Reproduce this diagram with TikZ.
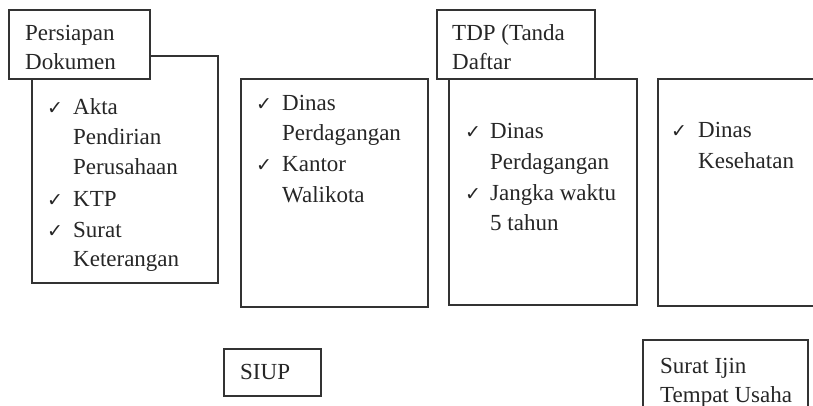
\documentclass[tikz,border=0pt]{standalone}
\usepackage{fontspec}
\setmainfont{Liberation Serif}
\newfontfamily\symfont{DejaVu Sans}
\begin{document}
\begin{tikzpicture}[x=1pt,y=-1pt,
  frame/.style={draw=black!80, line width=1.2pt, fill=white, inner sep=0pt, outer sep=0pt, anchor=north west},
  txt/.style={anchor=base west, inner sep=0pt, font=\fontsize{23}{30}\selectfont, text=black!85},
  chk/.style={anchor=base west, inner sep=0pt, font=\symfont\fontsize{19}{20}\selectfont, text=black!85}]
\useasboundingbox (0,0) rectangle (813,405);
\clip (0,0) rectangle (813,405);
% box 1
\node[frame, minimum width=186pt, minimum height=227pt] (b1) at (32,56) {};
\node[frame, minimum width=141pt, minimum height=69pt] (t1) at (9,10) {};
\node[txt] (t1a) at (25,40) {Persiapan};
\node[txt] (t1b) at (25,69) {Dokumen};
\node[chk] (c1a) at (47,114) {✓};
\node[txt] (l1a) at (73,114) {Akta};
\node[txt] (l1b) at (73,144) {Pendirian};
\node[txt] (l1c) at (73,174) {Perusahaan};
\node[chk] (c1b) at (47,206) {✓};
\node[txt] (l1d) at (73,206) {KTP};
\node[chk] (c1c) at (47,237) {✓};
\node[txt] (l1e) at (73,237) {Surat};
\node[txt] (l1f) at (73,266) {Keterangan};
% box 2
\node[frame, minimum width=187pt, minimum height=228pt] (b2) at (241,79) {};
\node[chk] (c2a) at (256,110) {✓};
\node[txt] (l2a) at (282,110) {Dinas};
\node[txt] (l2b) at (282,140) {Perdagangan};
\node[chk] (c2b) at (256,171) {✓};
\node[txt] (l2c) at (282,171) {Kantor};
\node[txt] (l2d) at (282,202) {Walikota};
% box 3
\node[frame, minimum width=188pt, minimum height=226pt] (b3) at (449,79) {};
\node[frame, minimum width=158pt, minimum height=69pt] (t3) at (437,10) {};
\node[txt] (t3a) at (452,40) {TDP (Tanda};
\node[txt] (t3b) at (452,69) {Daftar};
\node[chk] (c3a) at (465,138) {✓};
\node[txt] (l3a) at (490,138) {Dinas};
\node[txt] (l3b) at (490,169) {Perdagangan};
\node[chk] (c3b) at (465,200) {✓};
\node[txt] (l3c) at (490,200) {Jangka waktu};
\node[txt] (l3d) at (490,230) {5 tahun};
% box 4
\node[frame, minimum width=180pt, minimum height=227pt] (b4) at (658,79) {};
\node[chk] (c4a) at (671,137) {✓};
\node[txt] (l4a) at (698,137) {Dinas};
\node[txt] (l4b) at (698,168) {Kesehatan};
% SIUP
\node[frame, minimum width=97pt, minimum height=47pt] (s1) at (224,349) {};
\node[txt] (s1a) at (240,379) {SIUP};
% Surat Ijin
\node[frame, minimum width=165pt, minimum height=80pt] (s2) at (643,340) {};
\node[txt] (s2a) at (660,373) {Surat Ijin};
\node[txt] (s2b) at (660,402) {Tempat Usaha};
\end{tikzpicture}
\end{document}
